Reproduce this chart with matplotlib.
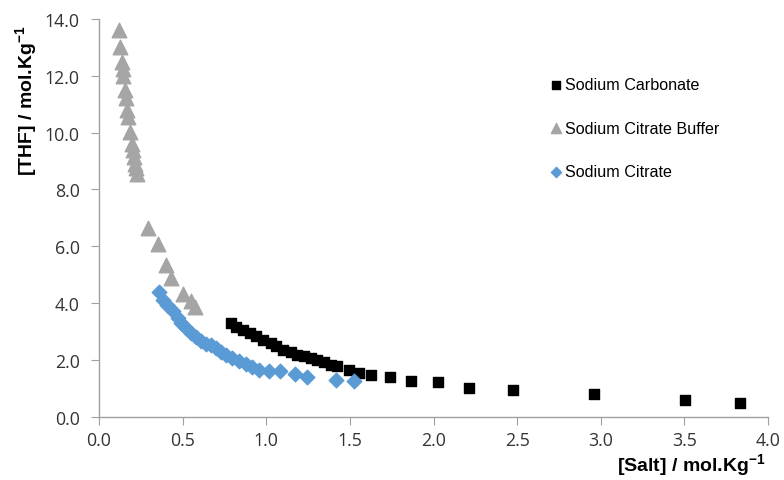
import matplotlib.pyplot as plt
import numpy as np

# Sodium Carbonate
carb_x = [0.788, 0.822, 0.862, 0.90, 0.94, 0.98, 1.03, 1.06, 1.10, 1.146, 1.186, 1.226,
          1.266, 1.306, 1.345, 1.385, 1.425, 1.495, 1.554, 1.624, 1.737, 1.867, 2.027,
          2.215, 2.476, 2.961, 3.506, 3.833]
carb_y = [3.30, 3.18, 3.06, 2.95, 2.83, 2.71, 2.60, 2.48, 2.36, 2.28, 2.19, 2.13,
          2.09, 1.99, 1.93, 1.84, 1.78, 1.66, 1.54, 1.48, 1.39, 1.27, 1.22,
          1.02, 0.96, 0.82, 0.61, 0.49]

# Sodium Citrate Buffer
buf_x = [0.121, 0.127, 0.137, 0.143, 0.145, 0.157, 0.161, 0.167, 0.173, 0.187, 0.195,
         0.201, 0.207, 0.213, 0.219, 0.227, 0.294, 0.354, 0.40, 0.43, 0.50, 0.549, 0.573]
buf_y = [13.6, 13.0, 12.48, 12.25, 12.0, 11.48, 11.2, 10.78, 10.55, 10.02, 9.6,
         9.38, 9.15, 8.91, 8.74, 8.54, 6.66, 6.07, 5.34, 4.9, 4.32, 4.06, 3.88]

# Sodium Citrate
cit_x = [0.36, 0.38, 0.406, 0.44, 0.473, 0.49, 0.52, 0.549, 0.579, 0.609, 0.639, 0.669,
         0.699, 0.728, 0.758, 0.798, 0.838, 0.878, 0.917, 0.957, 1.017, 1.085, 1.171,
         1.246, 1.415, 1.524]
cit_y = [4.39, 4.12, 3.94, 3.71, 3.47, 3.30, 3.12, 2.95, 2.80, 2.66, 2.56, 2.52,
         2.42, 2.30, 2.19, 2.09, 1.98, 1.86, 1.74, 1.66, 1.61, 1.61, 1.50,
         1.42, 1.31, 1.27]

xticks = np.arange(0, 4.01, 0.5)
yticks = np.arange(0, 14.01, 2.0)

fig = plt.figure(figsize=(7.84, 4.81), dpi=100)
ax = fig.add_axes([0.1263, 0.131, 0.8533, 0.828])

ax.scatter(carb_x, carb_y, marker='s', s=55, color='black', label='Sodium Carbonate', zorder=3)
ax.scatter(buf_x, buf_y, marker='^', s=110, color='#A5A5A5', label='Sodium Citrate Buffer', zorder=2)
ax.scatter(cit_x, cit_y, marker='D', s=55, color='#5B9BD5', label='Sodium Citrate', zorder=4)

ax.set_xlim(0, 4.0)
ax.set_ylim(0, 14.0)
ax.set_xticks(xticks)
ax.set_yticks(yticks)
ax.set_xticklabels(['%.1f' % t for t in xticks], fontfamily='Open Sans', fontsize=12.8, color='#333333')
ax.set_yticklabels(['%.1f' % t for t in yticks], fontfamily='Open Sans', fontsize=12.8, color='#333333')

for s in ['top', 'right']:
    ax.spines[s].set_visible(False)
for s in ['left', 'bottom']:
    ax.spines[s].set_color('#A0A0A0')
    ax.spines[s].set_linewidth(1.0)
ax.tick_params(direction='out', length=6, color='#A0A0A0', pad=8)
ax.tick_params(axis='x', pad=4)

ax.set_ylabel('[THF] / mol.Kg$^{\\mathregular{-1}}$', fontfamily='Liberation Sans',
              fontweight='bold', fontsize=14)
ax.yaxis.set_label_coords(-0.088, 0.797)
fig.text(0.977, 0.004, '[Salt] / mol.Kg$^{\\mathregular{-1}}$', fontfamily='Liberation Sans',
         fontweight='bold', fontsize=14, ha='right', va='bottom')

leg = ax.legend(loc='upper left', bbox_to_anchor=(0.65, 0.889), frameon=False,
                handletextpad=0.05, labelspacing=1.75, handlelength=1.0,
                prop={'family': 'Liberation Sans', 'size': 11.6}, markerscale=0.7)

fig.savefig('out.png', dpi=100)
